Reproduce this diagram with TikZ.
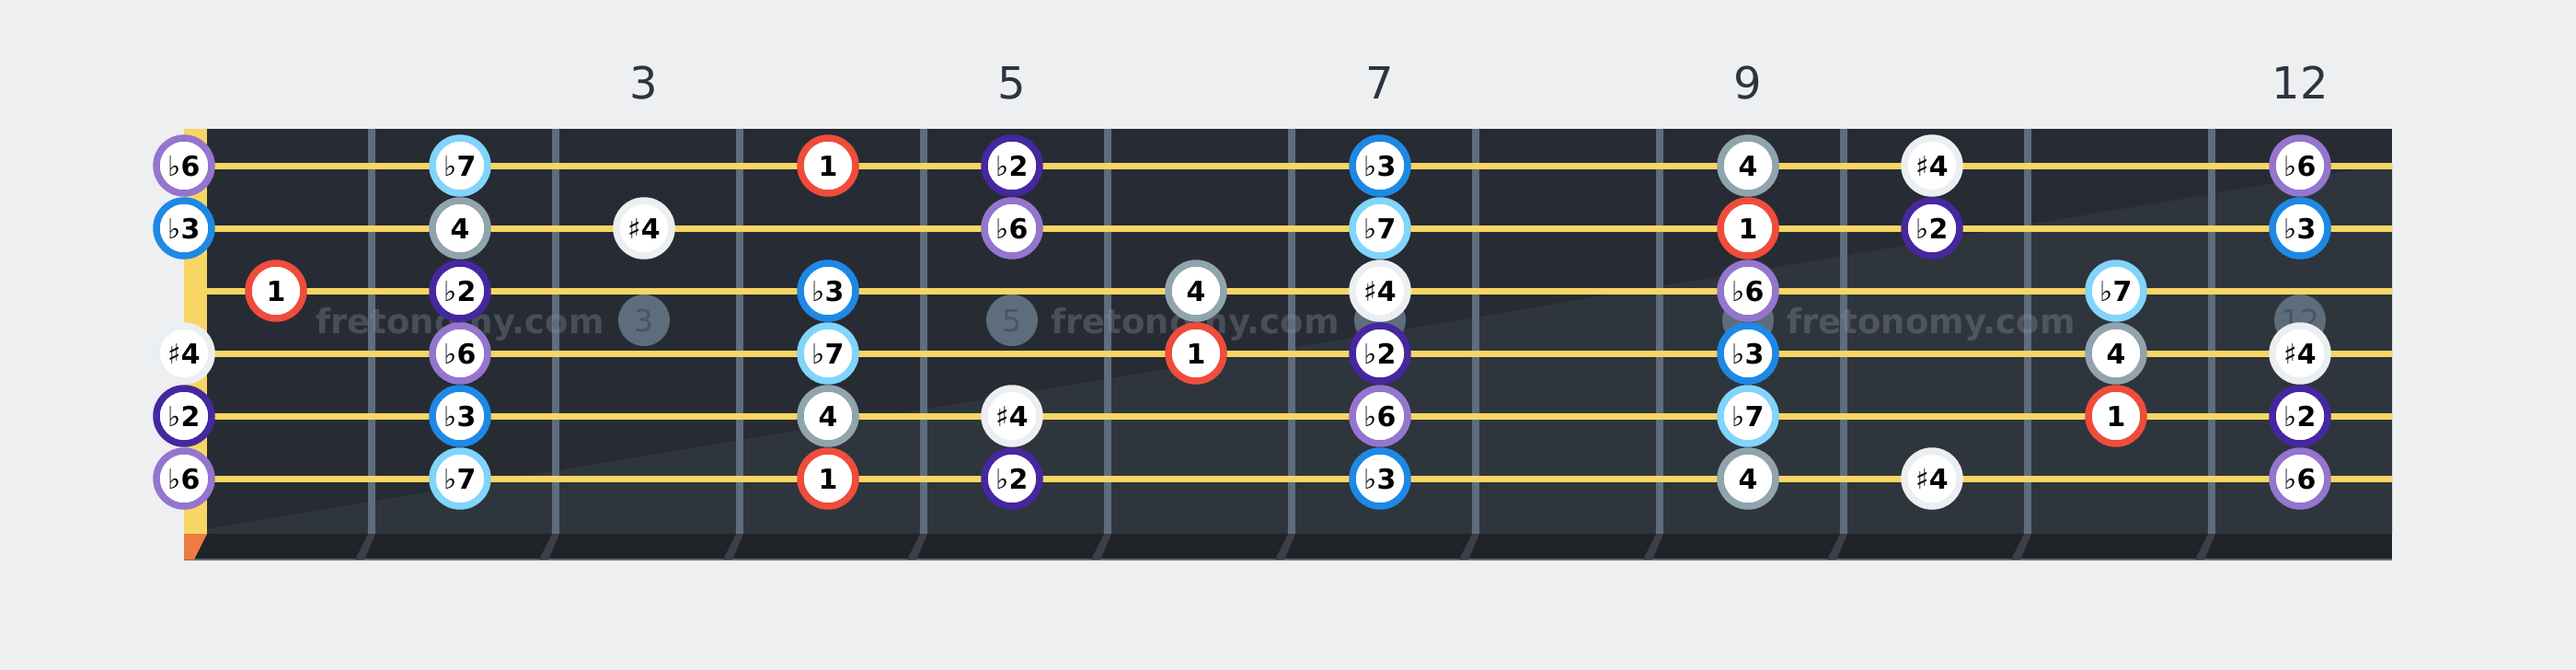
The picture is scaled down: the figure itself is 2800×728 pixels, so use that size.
\documentclass[tikz,border=0pt]{standalone}
\usepackage{fontspec}
\setmainfont{DejaVu Sans}

\definecolor{paper}{HTML}{EEEFF1}
\definecolor{board}{HTML}{272C34}
\definecolor{boardlit}{HTML}{2F353D}
\definecolor{boardend}{HTML}{202327}
\definecolor{fretcol}{HTML}{5D6D7B}
\definecolor{fretend}{HTML}{3B4048}
\definecolor{nutcol}{HTML}{F8D664}
\definecolor{nutend}{HTML}{EE7A44}
\definecolor{numcol}{HTML}{2C3440}
\definecolor{wmnum}{HTML}{485562}
\definecolor{wmcol}{HTML}{8C9199}
\definecolor{cone}{HTML}{F04C3C}
\definecolor{cftwo}{HTML}{4527A0}
\definecolor{cfthree}{HTML}{1E88E5}
\definecolor{cfour}{HTML}{90A4AE}
\definecolor{csfour}{HTML}{ECEFF1}
\definecolor{cfsix}{HTML}{9575CD}
\definecolor{cfseven}{HTML}{81D4FA}

\newcommand{\flt}[1]{{\mdseries ♭}#1}
\newcommand{\shp}[1]{{\mdseries ♯}#1}

\tikzset{
  note/.style={circle, fill=white, line width=7.5pt, minimum size=60pt, inner sep=0pt,
    text height=22pt, text depth=0pt, font=\fontsize{30}{30}\selectfont\bfseries},
  one/.style={note, draw=cone},
  ftwo/.style={note, draw=cftwo},
  fthree/.style={note, draw=cfthree},
  four/.style={note, draw=cfour},
  sfour/.style={note, draw=csfour},
  fsix/.style={note, draw=cfsix},
  fseven/.style={note, draw=cfseven},
  wmdot/.style={circle, fill=fretcol, minimum size=56pt, inner sep=0pt, text=wmnum,
    text height=24pt, text depth=0pt, font=\fontsize{33}{33}\selectfont},
  wmtext/.style={inner sep=0pt, text=wmcol, text opacity=0.35,
    font=\fontsize{37}{37}\selectfont\bfseries},
  fretno/.style={inner sep=0pt, text=numcol, font=\fontsize{48}{48}\selectfont}
}

\begin{document}
\begin{tikzpicture}[x=1pt,y=-1pt]
  \fill[paper] (0,0) rectangle (2800,728);
  \useasboundingbox (0,0) rectangle (2800,728);

  % board
  \fill[board]    (200,140) rectangle (2600,580);
  \fill[boardlit] (225,575) -- (2600,178) -- (2600,580) -- (225,580) -- cycle;
  \fill[boardend] (200,580) rectangle (2600,608);
  \draw[fretcol, line width=1.5pt] (200,608) -- (2600,608);
  \fill[nutcol] (200,140) rectangle (225,580);
  \fill[nutend] (200,580) -- (225,580) -- (211,608) -- (200,608) -- cycle;
  \foreach \k in {1,...,11} {
    \fill[fretcol] ({200*\k+200},140) rectangle ++(8,440);
    \fill[fretend] ({200*\k+200},580) -- ++(8,0) -- ++(-12,28) -- ++(-10,0) -- cycle;
  }

  % watermark
  \node[wmdot] (w3)  at (700,348)  {3};
  \node[wmdot] (w5)  at (1100,348) {5};
  \node[wmdot] (w7)  at (1500,348) {7};
  \node[wmdot] (w9)  at (1900,348) {9};
  \node[wmdot] (w12) at (2500,348) {12};

  % strings
  \foreach \y in {180,248,...,520}
    \draw[nutcol, line width=7pt] (225,\y) -- (2600,\y);

  \node[wmtext, anchor=base east] (t3) at (657,362)  {fretonomy.com};
  \node[wmtext, anchor=base west] (t5) at (1142,362) {fretonomy.com};
  \node[wmtext, anchor=base west] (t9) at (1942,362) {fretonomy.com};

  % string 1
  \node[fsix]   (s1f0)  at (200,180)  {\flt6};
  \node[fseven] (s1f2)  at (500,180)  {\flt7};
  \node[one]    (s1f4)  at (900,180)  {1};
  \node[ftwo]   (s1f5)  at (1100,180) {\flt2};
  \node[fthree] (s1f7)  at (1500,180) {\flt3};
  \node[four]   (s1f9)  at (1900,180) {4};
  \node[sfour]  (s1f10) at (2100,180) {\shp4};
  \node[fsix]   (s1f12) at (2500,180) {\flt6};

  % string 2
  \node[fthree] (s2f0)  at (200,248)  {\flt3};
  \node[four]   (s2f2)  at (500,248)  {4};
  \node[sfour]  (s2f3)  at (700,248)  {\shp4};
  \node[fsix]   (s2f5)  at (1100,248) {\flt6};
  \node[fseven] (s2f7)  at (1500,248) {\flt7};
  \node[one]    (s2f9)  at (1900,248) {1};
  \node[ftwo]   (s2f10) at (2100,248) {\flt2};
  \node[fthree] (s2f12) at (2500,248) {\flt3};

  % string 3
  \node[one]    (s3f1)  at (300,316)  {1};
  \node[ftwo]   (s3f2)  at (500,316)  {\flt2};
  \node[fthree] (s3f4)  at (900,316)  {\flt3};
  \node[four]   (s3f6)  at (1300,316) {4};
  \node[sfour]  (s3f7)  at (1500,316) {\shp4};
  \node[fsix]   (s3f9)  at (1900,316) {\flt6};
  \node[fseven] (s3f11) at (2300,316) {\flt7};

  % string 4
  \node[sfour]  (s4f0)  at (200,384)  {\shp4};
  \node[fsix]   (s4f2)  at (500,384)  {\flt6};
  \node[fseven] (s4f4)  at (900,384)  {\flt7};
  \node[one]    (s4f6)  at (1300,384) {1};
  \node[ftwo]   (s4f7)  at (1500,384) {\flt2};
  \node[fthree] (s4f9)  at (1900,384) {\flt3};
  \node[four]   (s4f11) at (2300,384) {4};
  \node[sfour]  (s4f12) at (2500,384) {\shp4};

  % string 5
  \node[ftwo]   (s5f0)  at (200,452)  {\flt2};
  \node[fthree] (s5f2)  at (500,452)  {\flt3};
  \node[four]   (s5f4)  at (900,452)  {4};
  \node[sfour]  (s5f5)  at (1100,452) {\shp4};
  \node[fsix]   (s5f7)  at (1500,452) {\flt6};
  \node[fseven] (s5f9)  at (1900,452) {\flt7};
  \node[one]    (s5f11) at (2300,452) {1};
  \node[ftwo]   (s5f12) at (2500,452) {\flt2};

  % string 6
  \node[fsix]   (s6f0)  at (200,520)  {\flt6};
  \node[fseven] (s6f2)  at (500,520)  {\flt7};
  \node[one]    (s6f4)  at (900,520)  {1};
  \node[ftwo]   (s6f5)  at (1100,520) {\flt2};
  \node[fthree] (s6f7)  at (1500,520) {\flt3};
  \node[four]   (s6f9)  at (1900,520) {4};
  \node[sfour]  (s6f10) at (2100,520) {\shp4};
  \node[fsix]   (s6f12) at (2500,520) {\flt6};

  % fret numbers
  \node[fretno] (n3)  at (700,90)  {3};
  \node[fretno] (n5)  at (1100,90) {5};
  \node[fretno] (n7)  at (1500,90) {7};
  \node[fretno] (n9)  at (1900,90) {9};
  \node[fretno] (n12) at (2500,90) {12};
\end{tikzpicture}
\end{document}
